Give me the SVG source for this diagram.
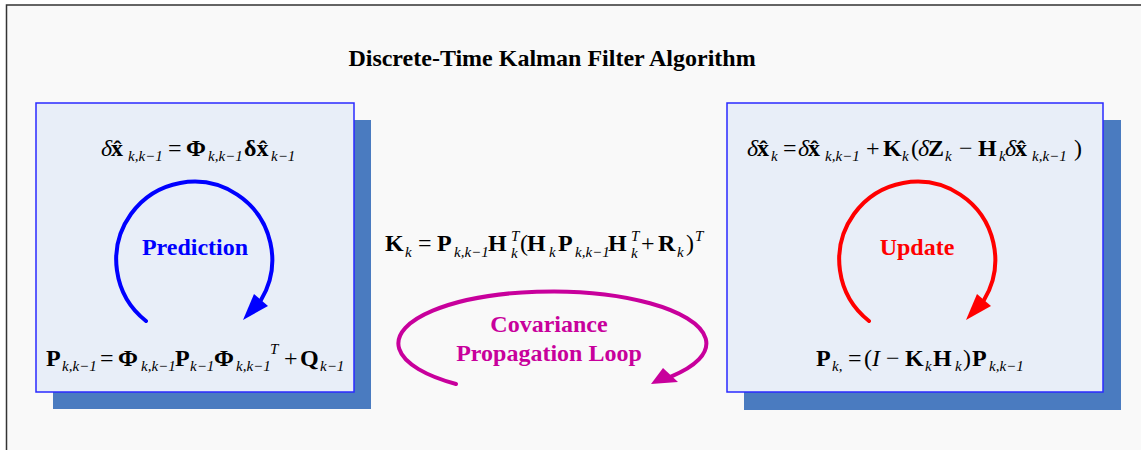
<svg xmlns="http://www.w3.org/2000/svg" width="1141" height="450" viewBox="0 0 1141 450">
<style>
.m{font-family:"Liberation Serif","Times New Roman",serif;font-size:24px;fill:#000}
.b{font-weight:bold}
.i{font-style:italic}
.s{font-size:15px;font-style:italic;font-weight:normal}
.box{fill:#e8eef8;stroke:#2a2aff;stroke-width:1.5}
.shadow{fill:#4a7bc0}
.lbl{font-family:"Liberation Serif","Times New Roman",serif;font-size:24px;font-weight:bold;text-anchor:middle}
</style>
<rect x="0" y="0" width="1141" height="450" fill="#ffffff"/>
<rect x="6.5" y="5" width="1140" height="450" fill="#f9f9f9" stroke="#333333" stroke-width="1.5"/>
<text x="552" y="66" class="lbl" fill="#000">Discrete-Time Kalman Filter Algorithm</text>

<g id="prediction-box">
<rect class="shadow" x="53" y="120" width="318" height="289"/>
<rect class="box" x="36" y="103" width="318" height="289"/>
<text class="m" y="156"><tspan x="101" class="i">δ</tspan><tspan x="111" class="b">x̂</tspan><tspan x="128" y="161" class="s">k,k−1</tspan><tspan x="168" y="156">=</tspan><tspan x="186" class="b">Φ</tspan><tspan x="208" y="161" class="s">k,k−1</tspan><tspan x="244" y="156" class="b">δx̂</tspan><tspan x="271" y="161" class="s">k−1</tspan></text>
<text class="m" y="366"><tspan x="46" class="b">P</tspan><tspan x="62" y="371" class="s">k,k−1</tspan><tspan x="100" y="366">=</tspan><tspan x="118" class="b">Φ</tspan><tspan x="141" y="371" class="s">k,k−1</tspan><tspan x="175" y="366" class="b">P</tspan><tspan x="190" y="371" class="s">k−1</tspan><tspan x="214" y="366" class="b">Φ</tspan><tspan x="236" y="371" class="s">k,k−1</tspan><tspan x="270" y="354" class="s">T</tspan><tspan x="284" y="366">+</tspan><tspan x="300" class="b">Q</tspan><tspan x="320" y="371" class="s">k−1</tspan></text>
<text x="195" y="255" class="lbl" fill="#0000ff">Prediction</text>
</g>

<g id="update-box">
<rect class="shadow" x="744" y="120" width="377" height="290"/>
<rect class="box" x="727" y="103" width="376" height="289"/>
<text class="m" y="156"><tspan x="747" class="i">δ</tspan><tspan x="757" class="b">x̂</tspan><tspan x="771" y="161" class="s">k</tspan><tspan x="783" y="156">=</tspan><tspan x="798" class="i">δ</tspan><tspan x="808" class="b">x̂</tspan><tspan x="825" y="161" class="s">k,k−1</tspan><tspan x="866" y="156">+</tspan><tspan x="883" class="b">K</tspan><tspan x="902" y="161" class="s">k</tspan><tspan x="911" y="156">(</tspan><tspan x="918" class="i">δ</tspan><tspan x="928" class="b">Z</tspan><tspan x="945" y="161" class="s">k</tspan><tspan x="959" y="156">−</tspan><tspan x="978" class="b">H</tspan><tspan x="999" y="161" class="s">k</tspan><tspan x="1005" y="156" class="i">δ</tspan><tspan x="1015" class="b">x̂</tspan><tspan x="1032" y="161" class="s">k,k−1</tspan><tspan x="1074" y="156">)</tspan></text>
<text class="m" y="366"><tspan x="816" class="b">P</tspan><tspan x="832" y="371" class="s">k,</tspan><tspan x="848" y="366">=</tspan><tspan x="864">(</tspan><tspan x="872" class="i">I</tspan><tspan x="886">−</tspan><tspan x="905" class="b">K</tspan><tspan x="925" y="371" class="s">k</tspan><tspan x="933" y="366" class="b">H</tspan><tspan x="955" y="371" class="s">k</tspan><tspan x="963" y="366">)</tspan><tspan x="972" class="b">P</tspan><tspan x="989" y="371" class="s">k,k−1</tspan></text>
<text x="917" y="255" class="lbl" fill="#ff0000">Update</text>
</g>

<g id="gain">
<text class="m" y="251"><tspan x="385" class="b">K</tspan><tspan x="405" y="257" class="s">k</tspan><tspan x="418" y="251">=</tspan><tspan x="437" class="b">P</tspan><tspan x="454" y="257" class="s">k,k−1</tspan><tspan x="488" y="251" class="b">H</tspan><tspan x="511" y="241" class="s">T</tspan><tspan x="511" y="258" class="s">k</tspan><tspan x="520" y="251">(</tspan><tspan x="527" class="b">H</tspan><tspan x="549" y="257" class="s">k</tspan><tspan x="558" y="251" class="b">P</tspan><tspan x="575" y="257" class="s">k,k−1</tspan><tspan x="608" y="251" class="b">H</tspan><tspan x="631" y="241" class="s">T</tspan><tspan x="631" y="258" class="s">k</tspan><tspan x="641" y="251">+</tspan><tspan x="658" class="b">R</tspan><tspan x="677" y="257" class="s">k</tspan><tspan x="686" y="251">)</tspan><tspan x="695" y="241" class="s">T</tspan></text>
</g>

<g id="covariance-label">
<text x="549" y="332" class="lbl" fill="#c8009c">Covariance</text>
<text x="549" y="361" class="lbl" fill="#c8009c">Propagation Loop</text>
</g>

<g id="connectors">
<path d="M146,321 A78,78 0 1 1 261,300" fill="none" stroke="#0000ff" stroke-width="4" stroke-linecap="round"/>
<polygon points="243,320 254,294 268,306" fill="#0000ff"/>
<path d="M869,321 A78,78 0 1 1 984,300" fill="none" stroke="#ff0000" stroke-width="4" stroke-linecap="round"/>
<polygon points="966,320 977,294 991,306" fill="#ff0000"/>
<path d="M456,384 A154,52 0 1 1 671,376.6" fill="none" stroke="#c8009c" stroke-width="4" stroke-linecap="round"/>
<polygon points="651,384 663,368 678,382" fill="#c8009c"/>
</g>
</svg>
